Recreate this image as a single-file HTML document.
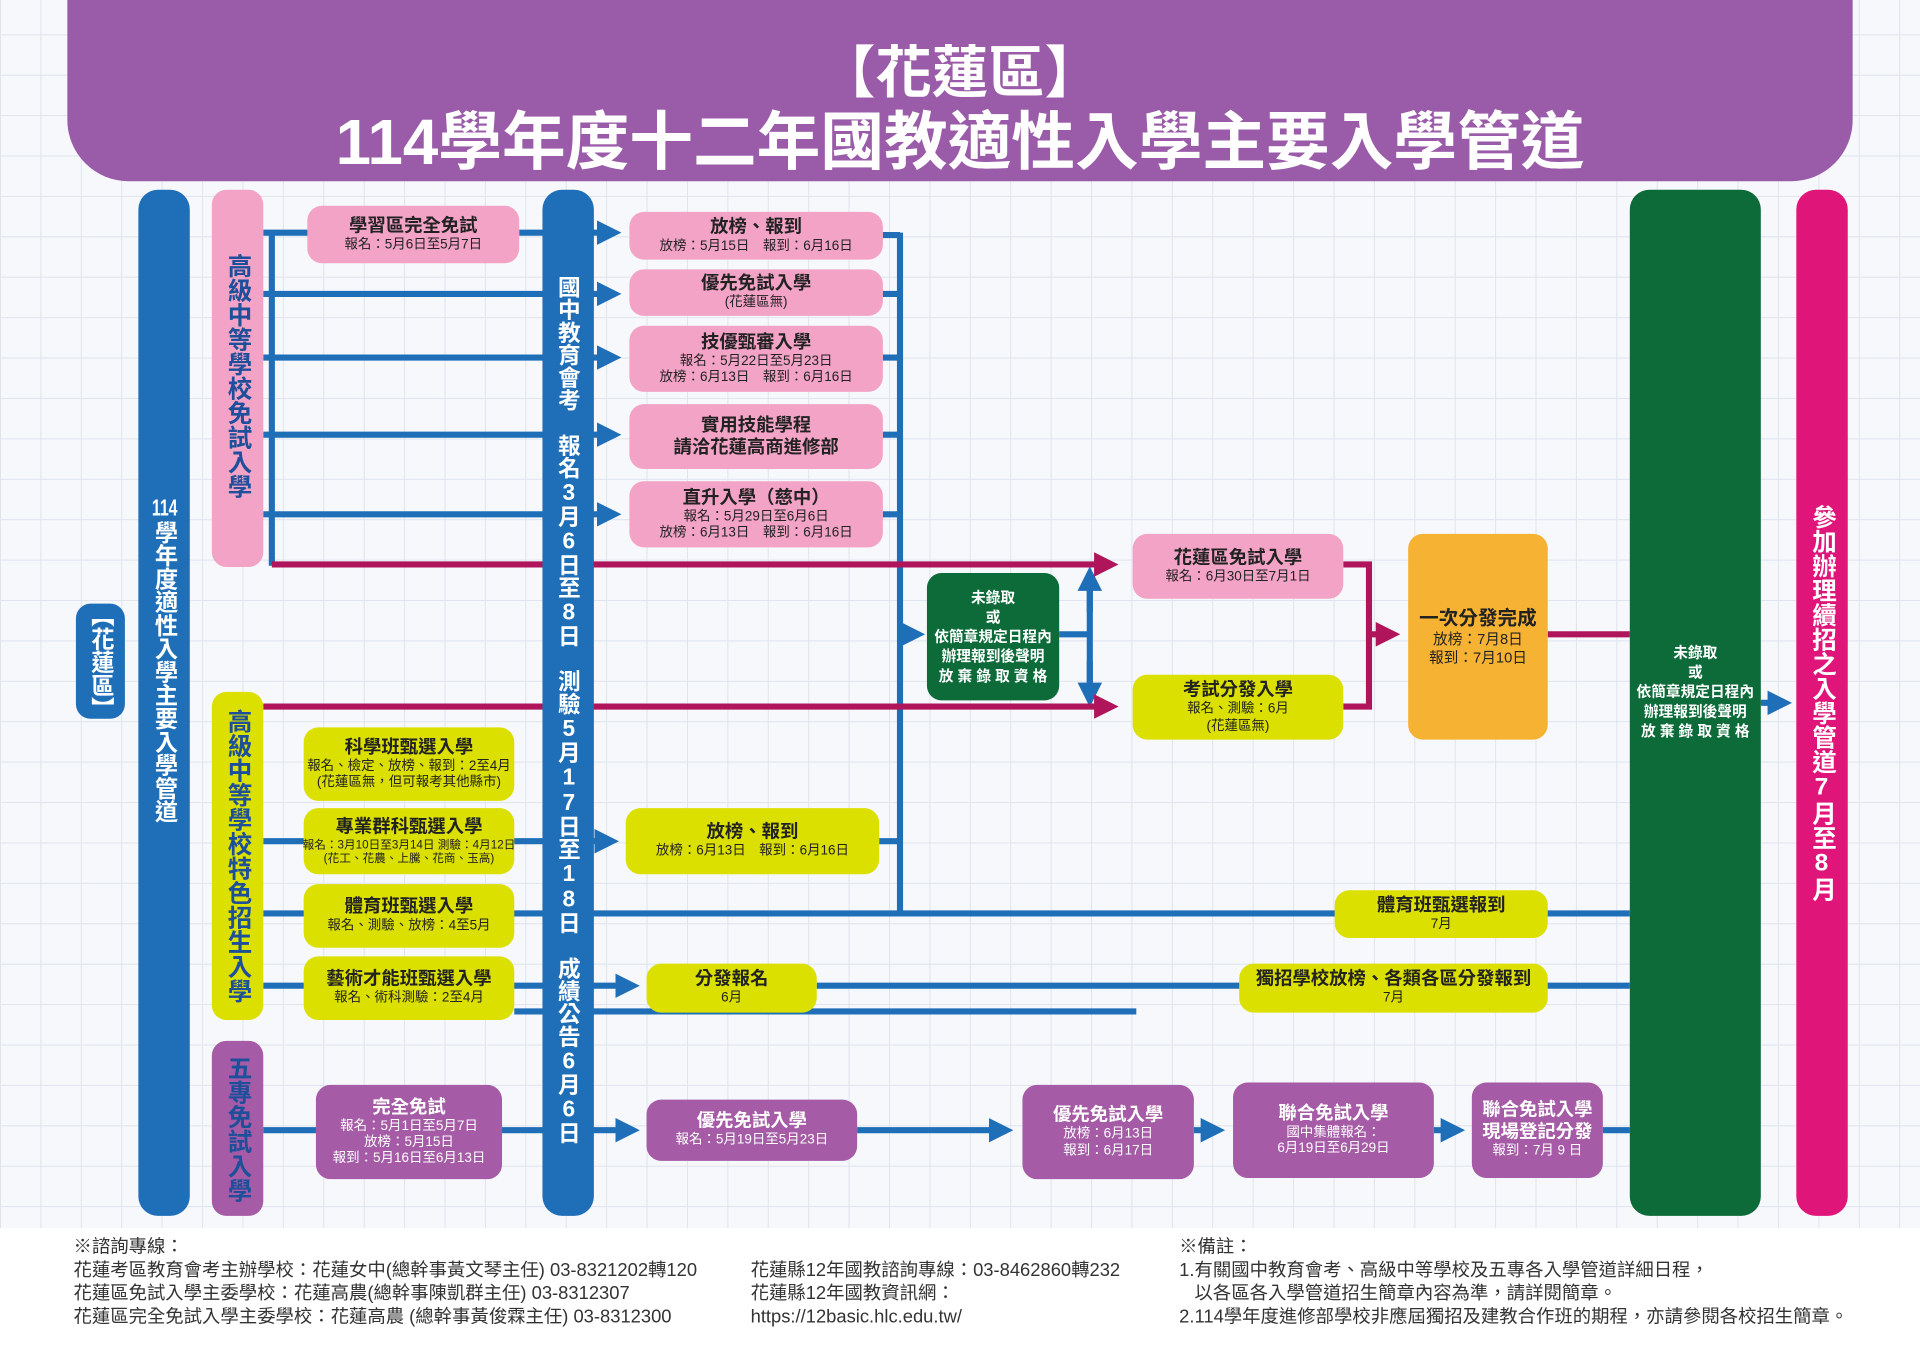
<!DOCTYPE html>
<html><head><meta charset="utf-8"><style>
*{margin:0;padding:0;box-sizing:border-box}
body{width:1920px;height:1364px;overflow:hidden;background:#fff;font-family:"Liberation Sans","Noto Sans CJK TC",sans-serif}
#c{position:absolute;left:0;top:0;width:1568px;height:1114px;transform:scale(1.2244898);transform-origin:0 0;
background-color:#f6f8fc;background-image:linear-gradient(#dfe4ee 1px,transparent 1px),linear-gradient(90deg,#dfe4ee 1px,transparent 1px);background-size:33px 33px;background-position:0 -5px}
.a{position:absolute}
.v{position:absolute;writing-mode:vertical-rl;text-orientation:upright;display:flex;align-items:center;justify-content:center;font-weight:bold;border-radius:12px;white-space:nowrap}
.cu{text-combine-upright:all}
.b{position:absolute;border-radius:12px;display:flex;flex-direction:column;align-items:center;justify-content:center;text-align:center;line-height:1.2;color:#222}
.b b{font-size:15px;font-weight:bold}
.b s{text-decoration:none;font-size:11px;white-space:nowrap}
.pk{background:#f2a3c6}.yl{background:#dbe000}.pu{background:#a55ba6;color:#fff}.gr{background:#0c6b38;color:#fff}
#foot{position:absolute;left:0;top:1003px;width:1568px;height:111px;background:#fff;font-size:15px;color:#333;line-height:19px;white-space:nowrap}
</style></head><body><div id="c">
<div class="a" style="left:55px;top:0;width:1458px;height:148px;background:#9a5ba8;border-radius:0 0 50px 50px"></div>
<div class="a" style="left:0;top:32px;width:1568px;text-align:center;color:#fff;font-weight:bold;font-size:46px;line-height:54px">【花蓮區】</div>
<div class="a" style="left:0;top:88px;width:1568px;text-align:center;color:#fff;font-weight:bold;font-size:52px;line-height:58px">114學年度十二年國教適性入學主要入學管道</div>

<svg class="a" style="left:0;top:0" width="1568" height="1114" viewBox="0 0 1568 1114">
<defs>
<marker id="ab" markerWidth="4" markerHeight="4" refX="2.5" refY="2" orient="auto" markerUnits="strokeWidth"><path d="M0,0L4,2L0,4z" fill="#1f6fb8"/></marker>
<marker id="am" markerWidth="4" markerHeight="4" refX="2.5" refY="2" orient="auto" markerUnits="strokeWidth"><path d="M0,0L4,2L0,4z" fill="#b0145a"/></marker>
</defs>
<g stroke="#1f6fb8" stroke-width="5" fill="none">
<path d="M222 190V462"/>
<path d="M215 190H252M424 190H500" marker-end="url(#ab)"/>
<path d="M215 240H500" marker-end="url(#ab)"/>
<path d="M215 292H500" marker-end="url(#ab)"/>
<path d="M215 355H500" marker-end="url(#ab)"/>
<path d="M215 420H500" marker-end="url(#ab)"/>
<path d="M721 192H735M721 240H735M721 292H735M721 355H735M721 420H735M718 687H735"/>
<path d="M735 190V746"/>
<path d="M735 518H748" marker-end="url(#ab)"/>
<path d="M865 518H890"/>
<path d="M890 475V567"/>
<path d="M890 500V470" marker-end="url(#ab)"/>
<path d="M890 540V570" marker-end="url(#ab)"/>
<path d="M215 687H498" marker-end="url(#ab)"/>
<path d="M215 746H1331"/>
<path d="M215 805H515" marker-end="url(#ab)"/>
<path d="M667 805H1331"/>
<path d="M420 826H928"/>
<path d="M215 923H443M443 923H515" marker-end="url(#ab)"/>
<path d="M700 923H820" marker-end="url(#ab)"/>
<path d="M975 923H993" marker-end="url(#ab)"/>
<path d="M1171 923H1189" marker-end="url(#ab)"/>
<path d="M1309 923H1331"/>
<path d="M1438 574H1456" marker-end="url(#ab)"/>
</g>
<g stroke="#b0145a" stroke-width="5" fill="none">
<path d="M222 461H906" marker-end="url(#am)"/>
<path d="M215 577H906" marker-end="url(#am)"/>
<path d="M1097 461H1118V577H1097"/>
<path d="M1118 518H1136" marker-end="url(#am)"/>
<path d="M1264 518H1331"/>
</g>
</svg>

<div class="v" style="left:62px;top:493px;width:40px;height:94px;background:#1f6fb8;color:#fff;font-size:19px;writing-mode:vertical-rl;text-orientation:mixed">【花蓮區】</div>
<div class="v" style="left:113px;top:155px;width:42px;height:838px;background:#1f6fb8;color:#fff;font-size:19px;border-radius:16px;padding-bottom:70px"><span class="cu">114</span>學年度適性入學主要入學管道</div>
<div class="v" style="left:173px;top:155px;width:42px;height:308px;background:#f2a3c6;color:#1d4f9a;font-size:20px;justify-content:flex-start;padding-top:52px">高級中等學校免試入學</div>
<div class="v" style="left:173px;top:565px;width:42px;height:268px;background:#dbe000;color:#1d4f9a;font-size:20px">高級中等學校特色招生入學</div>
<div class="v" style="left:173px;top:850px;width:42px;height:143px;background:#a55ba6;color:#1d4f9a;font-size:20px">五專免試入學</div>
<div class="v" style="left:443px;top:155px;width:42px;height:838px;background:#1f6fb8;color:#fff;font-size:18.5px;border-radius:16px;justify-content:flex-start;padding-top:70px">國中教育會考　報名3月6日至8日　測驗5月17日至18日　成績公告6月6日</div>
<div class="v" style="left:1331px;top:155px;width:107px;height:838px;background:#0c6b38;border-radius:16px"></div>
<div class="b" style="left:1331px;top:525px;width:107px;height:80px;color:#fff;font-size:12px;line-height:16px;font-weight:bold">未錄取<br>或<br>依簡章規定日程內<br>辦理報到後聲明<br>放 棄 錄 取 資 格</div>
<div class="v" style="left:1467px;top:155px;width:42px;height:838px;background:#e0157a;color:#fff;font-size:20px;border-radius:16px">參加辦理續招之入學管道7月至8月</div>

<div class="b pk" style="left:251px;top:168px;width:173px;height:47px"><b>學習區完全免試</b><s>報名：5月6日至5月7日</s></div>
<div class="b pk" style="left:514px;top:173px;width:207px;height:39px"><b>放榜、報到</b><s>放榜：5月15日　報到：6月16日</s></div>
<div class="b pk" style="left:514px;top:220px;width:207px;height:38px"><b>優先免試入學</b><s>(花蓮區無)</s></div>
<div class="b pk" style="left:514px;top:266px;width:207px;height:54px"><b>技優甄審入學</b><s>報名：5月22日至5月23日<br>放榜：6月13日　報到：6月16日</s></div>
<div class="b pk" style="left:514px;top:330px;width:207px;height:53px"><b>實用技能學程<br>請洽花蓮高商進修部</b></div>
<div class="b pk" style="left:514px;top:393px;width:207px;height:54px"><b>直升入學（慈中）</b><s>報名：5月29日至6月6日<br>放榜：6月13日　報到：6月16日</s></div>
<div class="b gr" style="left:757px;top:468px;width:108px;height:104px;font-size:12px;line-height:16px;font-weight:bold">未錄取<br>或<br>依簡章規定日程內<br>辦理報到後聲明<br>放 棄 錄 取 資 格</div>
<div class="b pk" style="left:925px;top:436px;width:172px;height:53px"><b>花蓮區免試入學</b><s>報名：6月30日至7月1日</s></div>
<div class="b yl" style="left:925px;top:551px;width:172px;height:53px"><b>考試分發入學</b><s>報名、測驗：6月<br>(花蓮區無)</s></div>
<div class="b" style="left:1150px;top:436px;width:114px;height:168px;background:#f6b232"><b style="font-size:16px">一次分發完成</b><s style="font-size:12px">放榜：7月8日<br>報到：7月10日</s></div>

<div class="b yl" style="left:248px;top:594px;width:172px;height:60px"><b>科學班甄選入學</b><s>報名、檢定、放榜、報到：2至4月<br>(花蓮區無，但可報考其他縣市)</s></div>
<div class="b yl" style="left:248px;top:660px;width:172px;height:54px"><b>專業群科甄選入學</b><s style="font-size:9.5px">報名：3月10日至3月14日 測驗：4月12日<br>(花工、花農、上騰、花商、玉高)</s></div>
<div class="b yl" style="left:248px;top:722px;width:172px;height:52px"><b>體育班甄選入學</b><s>報名、測驗、放榜：4至5月</s></div>
<div class="b yl" style="left:248px;top:781px;width:172px;height:52px"><b>藝術才能班甄選入學</b><s>報名、術科測驗：2至4月</s></div>
<div class="b yl" style="left:511px;top:660px;width:207px;height:54px"><b>放榜、報到</b><s>放榜：6月13日　報到：6月16日</s></div>
<div class="b yl" style="left:1090px;top:727px;width:174px;height:39px"><b>體育班甄選報到</b><s>7月</s></div>
<div class="b yl" style="left:528px;top:787px;width:139px;height:40px"><b>分發報名</b><s>6月</s></div>
<div class="b yl" style="left:1012px;top:787px;width:252px;height:40px"><b>獨招學校放榜、各類各區分發報到</b><s>7月</s></div>

<div class="b pu" style="left:258px;top:886px;width:152px;height:77px"><b>完全免試</b><s>報名：5月1日至5月7日<br>放榜：5月15日<br>報到：5月16日至6月13日</s></div>
<div class="b pu" style="left:528px;top:898px;width:172px;height:50px"><b>優先免試入學</b><s>報名：5月19日至5月23日</s></div>
<div class="b pu" style="left:835px;top:886px;width:140px;height:77px"><b>優先免試入學</b><s>放榜：6月13日<br>報到：6月17日</s></div>
<div class="b pu" style="left:1007px;top:884px;width:164px;height:78px"><b>聯合免試入學</b><s>國中集體報名：<br>6月19日至6月29日</s></div>
<div class="b pu" style="left:1202px;top:884px;width:107px;height:78px"><b>聯合免試入學<br>現場登記分發</b><s>報到：7月 9 日</s></div>

<div id="foot">
<div class="a" style="left:60px;top:6px">※諮詢專線：<br>花蓮考區教育會考主辦學校：花蓮女中(總幹事黃文琴主任) 03-8321202轉120<br>花蓮區免試入學主委學校：花蓮高農(總幹事陳凱群主任) 03-8312307<br>花蓮區完全免試入學主委學校：花蓮高農 (總幹事黃俊霖主任) 03-8312300</div>
<div class="a" style="left:613px;top:25px">花蓮縣12年國教諮詢專線：03-8462860轉232<br>花蓮縣12年國教資訊網：<br>https://12basic.hlc.edu.tw/</div>
<div class="a" style="left:963px;top:6px">※備註：<br>1.有關國中教育會考、高級中等學校及五專各入學管道詳細日程，<br>&nbsp;&nbsp;&nbsp;以各區各入學管道招生簡章內容為準，請詳閱簡章。<br>2.114學年度進修部學校非應屆獨招及建教合作班的期程，亦請參閱各校招生簡章。</div>
</div>
</div></body></html>
